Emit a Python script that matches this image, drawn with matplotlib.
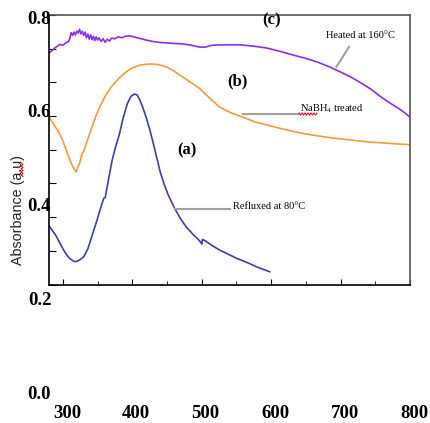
import numpy as np
import matplotlib
matplotlib.use("Agg")
import matplotlib.pyplot as plt
from matplotlib.lines import Line2D
from matplotlib.transforms import ScaledTranslation

plt.rcParams["mathtext.fontset"] = "stix"

# (a) refluxed at 80 C
wl_a = [280, 290, 300, 305, 310, 316, 320, 325, 330, 336, 342, 350, 356, 359,
        361, 363, 367, 371, 376, 381, 387, 393, 398, 403, 407, 411, 415, 420,
        425, 429, 435, 440, 446, 452, 461, 470, 478, 488, 495, 499, 500, 501,
        505, 515, 525, 536, 550, 565, 580, 598]
abs_a = [0.359, 0.338, 0.310, 0.298, 0.289, 0.283, 0.283, 0.287, 0.293, 0.310,
         0.338, 0.375, 0.405, 0.418, 0.419, 0.436, 0.468, 0.499, 0.528, 0.552,
         0.590, 0.620, 0.635, 0.640, 0.638, 0.627, 0.612, 0.590, 0.565, 0.542,
         0.506, 0.475, 0.447, 0.424, 0.396, 0.373, 0.356, 0.340, 0.330, 0.323,
         0.320, 0.330, 0.327, 0.317, 0.308, 0.300, 0.290, 0.281, 0.271, 0.261]

# (b) NaBH4 treated
wl_b = [280, 285, 290, 294, 300, 306, 310, 313, 316, 319, 321, 323, 325, 327,
        330, 333, 338, 343, 348, 355, 362, 370, 381, 390, 400, 412, 425, 437,
        449, 458, 468, 483, 497, 511, 526, 542, 559, 576, 594, 618, 642, 666,
        690, 715, 739, 768, 800]
abs_b = [0.591, 0.580, 0.568, 0.559, 0.540, 0.516, 0.500, 0.489, 0.481, 0.474,
         0.482, 0.489, 0.496, 0.510, 0.518, 0.531, 0.553, 0.574, 0.595, 0.618,
         0.638, 0.656, 0.674, 0.686, 0.696, 0.702, 0.704, 0.703, 0.698, 0.691,
         0.681, 0.666, 0.652, 0.632, 0.612, 0.600, 0.591, 0.581, 0.574, 0.565,
         0.557, 0.551, 0.546, 0.542, 0.538, 0.535, 0.532]

# (c) heated at 160 C
wl_c = [280, 284, 288, 292, 296, 300, 304, 308, 310, 312, 314, 316, 318, 320,
        322, 324, 326, 328, 330, 332, 334, 336, 338, 340, 342, 344, 346, 348,
        350, 352, 355, 358, 361, 364, 367, 370, 375, 380, 385, 390, 396, 402,
        410, 420, 430, 440, 449, 460, 472, 485, 497, 505, 515, 530, 555, 575,
        594, 613, 632, 650, 667, 684, 700, 715, 729, 744, 758, 772, 787, 800]
abs_c = [0.728, 0.732, 0.738, 0.742, 0.746, 0.744, 0.749, 0.752, 0.758, 0.771,
         0.765, 0.772, 0.766, 0.774, 0.770, 0.778, 0.768, 0.774, 0.765, 0.772,
         0.760, 0.768, 0.757, 0.766, 0.756, 0.763, 0.754, 0.762, 0.755, 0.760,
         0.752, 0.758, 0.750, 0.757, 0.753, 0.759, 0.758, 0.762, 0.760, 0.763,
         0.764, 0.762, 0.759, 0.755, 0.752, 0.750, 0.749, 0.748, 0.747, 0.744,
         0.740, 0.740, 0.744, 0.745, 0.745, 0.742, 0.738, 0.731, 0.723, 0.716,
         0.708, 0.698, 0.687, 0.676, 0.664, 0.650, 0.634, 0.620, 0.606, 0.591]

x_ticks = [300, 400, 500, 600, 700, 800]
y_labels = [0.8, 0.6, 0.4, 0.2, 0.0]


def squiggle(fig, x0, x1, y, vertical=False):
    # red spell-check underline, in figure pixels
    t = np.arange(x0, x1 + 1, 1.5)
    w = np.where(np.arange(len(t)) % 2 == 0, -1.0, 1.0)
    W, H = fig.get_size_inches() * fig.dpi
    if vertical:
        xs, ys = (y + w) / W, 1 - t / H
    else:
        xs, ys = t / W, 1 - (y + w) / H
    fig.add_artist(Line2D(xs, ys, color="red", lw=0.8, transform=fig.transFigure))


def main():
    fig = plt.figure(figsize=(4.31, 4.23), dpi=100)
    ax = fig.add_axes([49 / 431, 1 - 284.5 / 423, 361 / 431, 269.5 / 423])

    ax.plot(wl_a, abs_a, color="#3d3db8", lw=1.2)
    ax.plot(wl_b, abs_b, color="#f89a3a", lw=1.2)
    ax.plot(wl_c, abs_c, color="#8a30ee", lw=1.2)

    ylo = 0.8 - (284.5 - 19) / 469
    yhi = 0.8 + 4 / 469
    ax.set_xlim(280, 800)
    ax.set_ylim(ylo, yhi)

    ax.set_xticks(x_ticks)
    ax.set_xticks([350, 450, 550, 650, 750], minor=True)
    ax.set_xticklabels([str(v) for v in x_ticks], family="Liberation Serif",
                       fontweight="bold", fontsize=13.5)
    ax.set_yticks(np.linspace(ylo, yhi, 9))
    ax.set_yticklabels([])
    ax.tick_params(axis="x", which="major", direction="in", length=4, pad=87)
    ax.tick_params(axis="x", which="minor", direction="in", length=3)
    ax.tick_params(axis="y", direction="in", length=5)
    for lab in ax.get_xticklabels():
        lab.set_transform(lab.get_transform()
                          + ScaledTranslation(4 / 100, 0, fig.dpi_scale_trans))

    for v in y_labels:
        ax.text(0.006, v, f"{v:.1f}", transform=ax.get_yaxis_transform(),
                ha="right", va="center", family="Liberation Serif",
                fontweight="bold", fontsize=13.5, clip_on=False)

    for side in ["left", "bottom"]:
        ax.spines[side].set_linewidth(1.2)
    for side in ["top", "right"]:
        ax.spines[side].set_color("#555555")
        ax.spines[side].set_linewidth(1.2)

    fig.text(18 / 431, 1 - 210 / 423, "Absorbance (a.u)", rotation=90,
             ha="center", va="center", family="Liberation Sans",
             fontsize=10.3, color="#222222")

    bold = dict(family="Liberation Serif", fontweight="bold", fontsize=12,
                ha="center", va="center")
    ax.text(601, 0.796, "(c)", **bold)
    ax.text(552, 0.668, "(b)", **bold)
    ax.text(478, 0.519, "(a)", **bold)

    small = dict(family="Liberation Serif", fontsize=7.5, va="center")
    ax.text(729, 0.764, "Heated at 160°C", ha="center", **small)
    ax.text(641, 0.608, r"NaBH$_4$ treated", ha="left", **small)
    ax.text(545, 0.401, "Refluxed at 80°C", ha="left", **small)

    grey = dict(color="#a0a0a0", lw=1.5)
    ax.plot([694, 712], [0.698, 0.740], **grey)
    ax.plot([559, 638], [0.597, 0.597], **grey)
    ax.plot([461, 541], [0.395, 0.395], **grey)

    squiggle(fig, 299, 317, 114)
    squiggle(fig, 163, 177, 22, vertical=True)

    fig.savefig("out.png", dpi=100)


if __name__ == "__main__":
    main()
